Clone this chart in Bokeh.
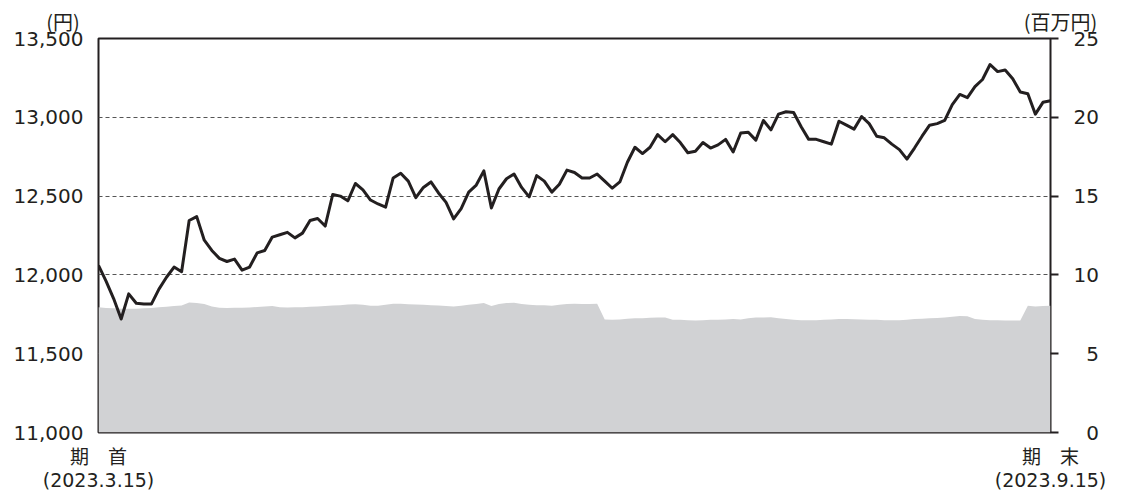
from bokeh.plotting import figure
from bokeh.models import Range1d, LinearAxis, FixedTicker, NumeralTickFormatter
from bokeh.embed import file_html
from bokeh.resources import INLINE

# 基準価額 (円)
price = [12060, 11960, 11850, 11720, 11880, 11820, 11815, 11815, 11910, 11985,
         12050, 12020, 12345, 12370, 12220, 12155, 12105, 12085, 12100, 12030,
         12050, 12140, 12155, 12240, 12255, 12270, 12235, 12265, 12345, 12358,
         12310, 12510, 12500, 12470, 12580, 12540, 12475, 12450, 12430, 12615,
         12645, 12595, 12490, 12555, 12590, 12520, 12460, 12355, 12420, 12525,
         12570, 12660, 12425, 12545, 12610, 12640, 12555, 12495, 12630, 12595,
         12525, 12575, 12665, 12650, 12615, 12615, 12640, 12595, 12550, 12590,
         12715, 12810, 12770, 12810, 12890, 12845, 12890, 12840, 12775, 12785,
         12840, 12805, 12825, 12860, 12780, 12900, 12905, 12855, 12980, 12920,
         13020, 13035, 13030, 12940, 12860, 12860, 12845, 12830, 12975, 12950,
         12925, 13005, 12960, 12880, 12870, 12830, 12795, 12735, 12805, 12880,
         12950, 12960, 12980, 13080, 13145, 13125, 13195, 13240, 13335, 13290,
         13300, 13245, 13160, 13150, 13020, 13095, 13105]

# 純資産総額 (百万円)
assets = [7.95, 7.90, 7.88,
          7.85, 7.85, 7.85, 7.88, 7.90,
          7.95, 7.98, 8.02, 8.06,
          8.25, 8.22, 8.15,
          8.00, 7.92, 7.90, 7.92,
          7.91, 7.93, 7.97, 8.00,
          8.02, 7.95, 7.93, 7.95,
          7.95, 7.98, 8.00, 8.02,
          8.06, 8.08, 8.12, 8.14, 8.10,
          8.05, 8.04, 8.10, 8.17,
          8.17, 8.14, 8.12, 8.10, 8.08,
          8.06, 8.03, 8.00, 8.05,
          8.10, 8.15, 8.22, 8.02,
          8.15, 8.22, 8.23, 8.15,
          8.10, 8.08, 8.07, 8.05,
          8.10, 8.15, 8.17, 8.16, 8.16, 8.17,
          7.17,
          7.15, 7.17, 7.22, 7.25, 7.25,
          7.28, 7.30, 7.30, 7.15,
          7.15, 7.12, 7.10, 7.12,
          7.15, 7.15, 7.17, 7.20, 7.17,
          7.25, 7.30, 7.30, 7.32, 7.25,
          7.20, 7.15, 7.12, 7.12, 7.12,
          7.15, 7.17, 7.20, 7.20, 7.18,
          7.17, 7.15, 7.15, 7.13, 7.12,
          7.12, 7.15, 7.20, 7.22, 7.25,
          7.27, 7.30, 7.35, 7.40, 7.38,
          7.20, 7.15, 7.12, 7.12, 7.10,
          7.10, 7.10,
          8.05, 8.00, 8.02, 8.05]

x = list(range(len(price)))

left_ticks = [11000, 11500, 12000, 12500, 13000, 13500]
right_ticks = [0, 5, 10, 15, 20, 25]
start_label = "期　首\n(2023.3.15)"
end_label = "期　末\n(2023.9.15)"
left_unit = "(円)"
right_unit = "(百万円)"

CJK = "Noto Sans CJK JP"
NUM = "DejaVu Sans"
MIX = "DejaVu Sans, Noto Sans CJK JP"
TXT = "#231f20"

n = len(price)
p = figure(width=1121, height=496, output_backend="svg", toolbar_location=None,
           x_range=Range1d(0, n - 1), y_range=Range1d(left_ticks[0], left_ticks[-1]),
           min_border_left=98, min_border_right=71, min_border_top=38,
           min_border_bottom=64)
p.extra_y_ranges = {"right": Range1d(right_ticks[0], right_ticks[-1])}

p.outline_line_color = "#231f20"
p.outline_line_width = 2
p.outline_line_alpha = 1
p.background_fill_color = "white"
p.border_fill_color = "white"

# area (net assets) on right axis
p.varea(x=x, y1=0, y2=assets, y_range_name="right", fill_color="#d1d2d4")
# price line
p.line(x, price, line_width=3, line_color="#231f20", line_join="round")

# left axis
la = p.left[0]
la.ticker = FixedTicker(ticks=left_ticks)
la.formatter = NumeralTickFormatter(format="0,0")
la.major_tick_out = 0
la.major_tick_in = 0
la.minor_tick_line_color = None
la.axis_line_color = None
la.major_label_standoff = 15
la.major_label_text_font = NUM
la.major_label_text_font_size = "20px"
la.major_label_text_color = TXT

# right axis
ra = LinearAxis(y_range_name="right", ticker=FixedTicker(ticks=right_ticks))
ra.major_label_overrides = {v: (str(v) if v >= 10 else "\u2007" + str(v)) for v in right_ticks}
ra.major_tick_out = 8
ra.major_tick_in = 0
ra.major_tick_line_width = 2
ra.major_tick_line_color = "#231f20"
ra.minor_tick_line_color = None
ra.axis_line_color = None
ra.major_label_standoff = 15
ra.major_label_text_font = NUM
ra.major_label_text_font_size = "20px"
ra.major_label_text_color = TXT
p.add_layout(ra, "right")

# bottom axis
xa = p.below[0]
xa.ticker = FixedTicker(ticks=[0, n - 1])
xa.major_label_overrides = {0: start_label, n - 1: end_label}
xa.major_tick_out = 0
xa.major_tick_in = 0
xa.minor_tick_line_color = None
xa.axis_line_color = None
xa.major_label_standoff = 13
xa.major_label_text_font = MIX
xa.major_label_text_font_size = "19px"
xa.major_label_text_line_height = 1.05
xa.major_label_text_color = TXT

# top axis carrying the unit captions
ta = LinearAxis(ticker=FixedTicker(ticks=[0, n - 1]))
ta.major_label_overrides = {0: left_unit + "\u3000\u3000\u3000\u2007",
                            n - 1: "\u3000" + right_unit}
ta.major_tick_out = 0
ta.major_tick_in = 0
ta.minor_tick_line_color = None
ta.axis_line_color = None
ta.major_label_standoff = 3
ta.major_label_text_font = CJK
ta.major_label_text_font_size = "20px"
ta.major_label_text_color = TXT
p.add_layout(ta, "above")

# grid
p.xgrid.grid_line_color = None
p.ygrid.ticker = FixedTicker(ticks=left_ticks)
p.ygrid.grid_line_color = "#555555"
p.ygrid.grid_line_dash = "4 3"
p.ygrid.grid_line_width = 1

open("out.html", "w").write(file_html(p, INLINE))
